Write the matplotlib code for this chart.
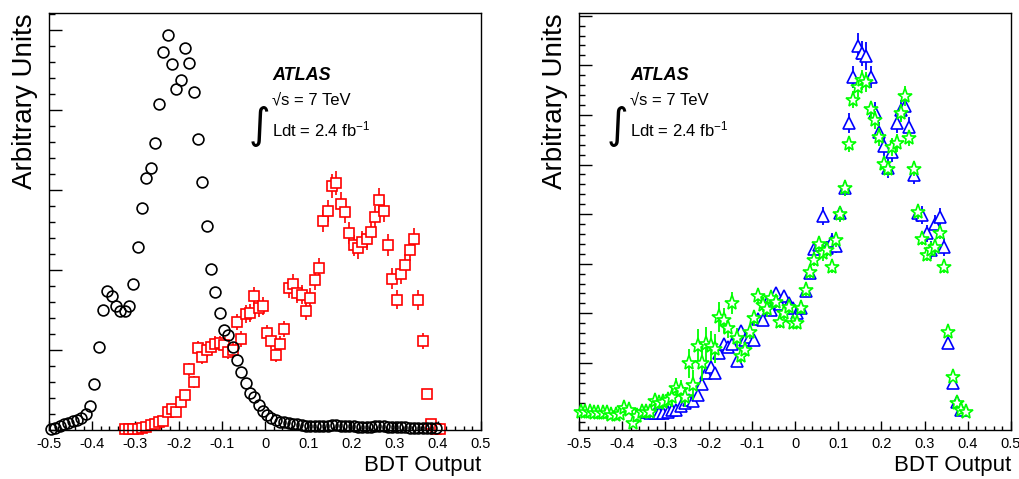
import numpy as np
import matplotlib
matplotlib.use('Agg')
import matplotlib.pyplot as plt
from matplotlib.ticker import MultipleLocator, FixedLocator, NullFormatter

plt.rcParams['font.family'] = ['Liberation Sans', 'DejaVu Sans']
plt.rcParams['axes.unicode_minus'] = False
plt.rcParams['mathtext.fontset'] = 'custom'
plt.rcParams['mathtext.rm'] = 'Liberation Sans'
plt.rcParams['mathtext.it'] = 'Liberation Sans:italic'

# ---------------- data ----------------
# bin width 0.01, first bin centre given for each series
bin_w = 0.01

# left panel, black circles, first bin -0.495
circ_x0 = -0.495
circ_y = [0.01, 0.03, 0.05, 0.07, 0.09, 0.11, 0.13, 0.15, 0.20, 0.30,
          0.58, 1.04, 1.50, 1.74, 1.67, 1.55, 1.49, 1.49, 1.55, 1.82,
          2.29, 2.78, 3.15, 3.27, 3.59, 4.07, 4.72, 4.94, 4.58, 4.26,
          4.375, 4.78, 4.59, 4.22, 3.64, 3.10, 2.55, 2.01, 1.725, 1.46,
          1.25, 1.19, 1.04, 0.88, 0.72, 0.59, 0.46, 0.41, 0.31, 0.24,
          0.19, 0.15, 0.12, 0.10, 0.10, 0.09, 0.08, 0.07, 0.06, 0.05,
          0.05, 0.05, 0.05, 0.05, 0.05, 0.06, 0.06, 0.05, 0.05, 0.05,
          0.05, 0.04, 0.04, 0.04, 0.04, 0.05, 0.05, 0.05, 0.04, 0.04,
          0.04, 0.04, 0.04, 0.03, 0.03, 0.03, 0.03, 0.03, 0.03, 0.02]

# left panel, red squares, first bin -0.325
sq_x0 = -0.325
sq_y = [0.01, 0.01, 0.01, 0.01, 0.02, 0.04, 0.06, 0.08, 0.10, 0.11,
        0.22, 0.26, 0.23, 0.35, 0.44, 0.76, 0.60, 1.02, 0.91, 1.00,
        1.04, 1.08, 1.09, 1.06, 0.98, 1.00, 1.35, 1.14, 1.45, 1.46,
        1.67, 1.52, 1.55, 1.21, 1.11, 0.94, 1.08, 1.26, 1.77, 1.83,
        1.71, 1.69, 1.49, 1.65, 1.875, 2.02, 2.61, 2.74, 3.05, 3.09,
        2.83, 2.73, 2.46, 2.31, 2.27, 2.35, 2.39, 2.47, 2.66, 2.87,
        2.74, 2.31, 1.89, 1.63, 1.95, 2.06, 2.25, 2.39, 1.625, 1.11,
        0.45, 0.08, 0.01, 0.01]
sq_err = [0.01, 0.01, 0.01, 0.01, 0.02, 0.02, 0.03, 0.03, 0.03,
          0.03, 0.05, 0.05, 0.05, 0.06, 0.06,
          0.08, 0.07, 0.09, 0.09, 0.09, 0.09, 0.09, 0.09, 0.09, 0.09, 0.09,
          0.10, 0.10, 0.11, 0.11, 0.12, 0.11, 0.11, 0.10, 0.10, 0.09, 0.10, 0.10,
          0.12, 0.12, 0.12, 0.12, 0.11, 0.12, 0.12, 0.13,
          0.14, 0.14, 0.15, 0.15, 0.14, 0.14, 0.14, 0.13, 0.13,
          0.14, 0.14, 0.14, 0.14, 0.15, 0.14, 0.14, 0.13, 0.12,
          0.13, 0.14, 0.14, 0.14, 0.12, 0.10, 0.06, 0.03, 0.01, 0.01]

# right panel, blue triangles, first bin -0.355
tri_x0 = -0.355
tri_y = [0.02, 0.02, 0.00, 0.00, 0.00, 0.00, 0.02, 0.06, 0.05, 0.13,
         0.19, 0.26, 0.24, 0.35, 0.57, 0.79, 0.91, 0.79, 1.19, 1.39,
         1.33, 1.39, 1.04, 1.65, 1.46, 1.53, 1.46, 1.88, 1.86, 2.20,
         2.07, 2.40, 2.18, 2.35, 2.21, 2.10, 2.00, 2.10, 2.44, 2.81,
         3.29, 3.38, 3.96, 3.31, 3.46, 3.36, 4.02, 4.52, 5.83, 6.77,
         7.38, 7.24, 7.19, 6.77, 6.06, 5.66, 5.37, 4.92, 5.26, 5.83,
         6.10, 6.17, 5.75, 4.79, 4.03, 3.98, 3.61, 3.28, 3.80, 3.95,
         3.33, 1.41, 0.60, 0.22, 0.06]
tri_err = [0.03, 0.03, 0.03, 0.03, 0.03, 0.03, 0.03, 0.03, 0.03, 0.05,
           0.05, 0.05, 0.05, 0.05, 0.08, 0.08, 0.08, 0.08, 0.10, 0.10,
           0.10, 0.10, 0.10, 0.10, 0.10, 0.10, 0.10, 0.10, 0.10, 0.10,
           0.10, 0.10, 0.10, 0.10, 0.10, 0.10, 0.10, 0.12, 0.12, 0.12,
           0.12, 0.12, 0.18, 0.15, 0.15, 0.15, 0.15, 0.15, 0.20, 0.22,
           0.28, 0.25, 0.28, 0.22, 0.20, 0.20, 0.20, 0.20, 0.20, 0.20,
           0.20, 0.20, 0.20, 0.18, 0.18, 0.18, 0.18, 0.18, 0.18, 0.18,
           0.18, 0.12, 0.06, 0.04, 0.03]

# right panel, green stars, first bin -0.495
star_x0 = -0.495
star_y = [0.02, 0.02, 0.02, 0.00, 0.00, -0.02, 0.00, -0.05, -0.05, -0.03,
          0.10, 0.06, -0.22, -0.08, 0.02, 0.02, 0.02, 0.24, 0.19, 0.22,
          0.25, 0.32, 0.49, 0.45, 0.32, 0.99, 0.55, 1.34, 0.99, 1.38,
          1.34, 1.29, 1.93, 1.86, 1.70, 2.20, 1.50, 1.14, 1.26, 1.63,
          1.90, 2.34, 2.17, 2.08, 2.30, 2.23, 1.83, 2.00, 2.13, 1.81,
          1.81, 2.10, 2.46, 2.84, 3.08, 3.40, 3.21, 3.28, 2.93, 3.48,
          4.00, 4.52, 5.41, 6.31, 6.57, 6.70, 6.67, 6.11, 5.90, 5.56,
          5.02, 4.91, 5.36, 5.43, 6.03, 6.38, 5.53, 4.91, 4.05, 3.49,
          3.18, 3.28, 3.34, 3.61, 2.93, 1.63, 0.72, 0.19, 0.05, 0.02]
star_err = [0.04, 0.04, 0.04, 0.04, 0.04, 0.04, 0.04, 0.04, 0.04, 0.04,
            0.06, 0.05, 0.08, 0.06, 0.05, 0.05, 0.06, 0.15, 0.12, 0.15,
            0.12, 0.20, 0.20, 0.20, 0.20, 0.30, 0.30, 0.35, 0.35, 0.35,
            0.30, 0.30, 0.30, 0.25, 0.20, 0.22, 0.20, 0.15, 0.15, 0.15,
            0.15, 0.18, 0.15, 0.15, 0.15, 0.12, 0.12, 0.12, 0.12, 0.10,
            0.10, 0.12, 0.12, 0.12, 0.12, 0.12, 0.15, 0.12, 0.12, 0.15,
            0.15, 0.15, 0.15, 0.18, 0.20, 0.20, 0.20, 0.18, 0.18, 0.18,
            0.15, 0.15, 0.18, 0.18, 0.18, 0.20, 0.15, 0.15, 0.15, 0.12,
            0.12, 0.12, 0.12, 0.12, 0.12, 0.10, 0.06, 0.04, 0.03, 0.02]

x_ticks = [-0.5, -0.4, -0.3, -0.2, -0.1, 0.0, 0.1, 0.2, 0.3, 0.4, 0.5]
x_ticklabels = ['-0.5', '-0.4', '-0.3', '-0.2', '-0.1', '0',
                '0.1', '0.2', '0.3', '0.4', '0.5']


def centres(x0, vals):
    return np.round(x0 + bin_w * np.arange(len(vals)), 4)


# ---------------- figure ----------------
W, H = 1019, 479
fig = plt.figure(figsize=(W / 100, H / 100), dpi=100)
ax1 = fig.add_axes([49 / W, 1 - 430 / H, 432 / W, 417 / H])
ax2 = fig.add_axes([579 / W, 1 - 430 / H, 432 / W, 417 / H])


def style_axis(ax, ymin, ymax):
    ax.set_xlim(-0.5, 0.5)
    ax.set_ylim(ymin, ymax)
    ax.xaxis.set_major_locator(FixedLocator(x_ticks))
    ax.set_xticklabels(x_ticklabels)
    ax.xaxis.set_minor_locator(MultipleLocator(0.02))
    ax.yaxis.set_major_locator(MultipleLocator(1))
    ax.yaxis.set_minor_locator(MultipleLocator(0.2))
    ax.yaxis.set_major_formatter(NullFormatter())
    ax.tick_params(axis='x', which='major', direction='in', length=6.5, width=1.0,
                   labelsize=10.5, pad=5, top=False)
    ax.tick_params(axis='x', which='minor', direction='in', length=3.2, width=1.0, top=False)
    ax.tick_params(axis='y', which='major', direction='in', length=9, width=1.0, right=False)
    ax.tick_params(axis='y', which='minor', direction='in', length=4.3, width=1.0, right=False)
    for s in ax.spines.values():
        s.set_linewidth(1.0)
    ax.set_ylabel('Arbitrary Units', fontsize=20, loc='top')
    ax.yaxis.set_label_coords(-0.026, 1.0)
    ax.set_xlabel('BDT Output', fontsize=16, loc='right')
    ax.xaxis.set_label_coords(1.0, -0.06)


def atlas_label(ax, xt, xi):
    ax.text(xt, 0.839, 'ATLAS', transform=ax.transAxes, fontsize=13,
            fontweight='bold', fontstyle='italic', va='baseline', ha='left')
    ax.text(xt, 0.781, '\u221as = 7 TeV', transform=ax.transAxes, fontsize=12,
            va='baseline', ha='left')
    ax.text(xt, 0.703, r'Ldt = 2.4 fb$^{-1}$', transform=ax.transAxes, fontsize=12,
            va='baseline', ha='left')
    ax.text(xi, 0.729, '\u222b', transform=ax.transAxes, fontsize=30,
            va='center', ha='center', family=['DejaVu Sans'])


# left panel
style_axis(ax1, 0, 417 / 80)
ax1.errorbar(centres(sq_x0, sq_y), sq_y, yerr=sq_err, fmt='s', ms=7.3, mfc='white',
             mec='red', mew=1.2, ecolor='red', elinewidth=1.2, capsize=0,
             zorder=2, clip_on=False)
ax1.plot(centres(circ_x0, circ_y), circ_y, 'o', ms=7.8, mfc='none', mec='black',
         mew=1.2, zorder=3, clip_on=False)
atlas_label(ax1, 0.516, 0.488)

# right panel
style_axis(ax2, -17.5 / 49.6, 399.5 / 49.6)
ax2.errorbar(centres(tri_x0, tri_y), tri_y, yerr=tri_err, fmt='^', ms=9, mfc='white',
             mec='blue', mew=1.2, ecolor='blue', elinewidth=1.3, capsize=0,
             zorder=2, clip_on=False)
ax2.errorbar(centres(star_x0, star_y), star_y, yerr=star_err, fmt='*', ms=11, mfc='white',
             mec='#00ff00', mew=1.2, ecolor='#00ff00', elinewidth=1.3, capsize=0,
             zorder=3, clip_on=False)
atlas_label(ax2, 0.118, 0.089)

fig.savefig('out.png', dpi=100)
